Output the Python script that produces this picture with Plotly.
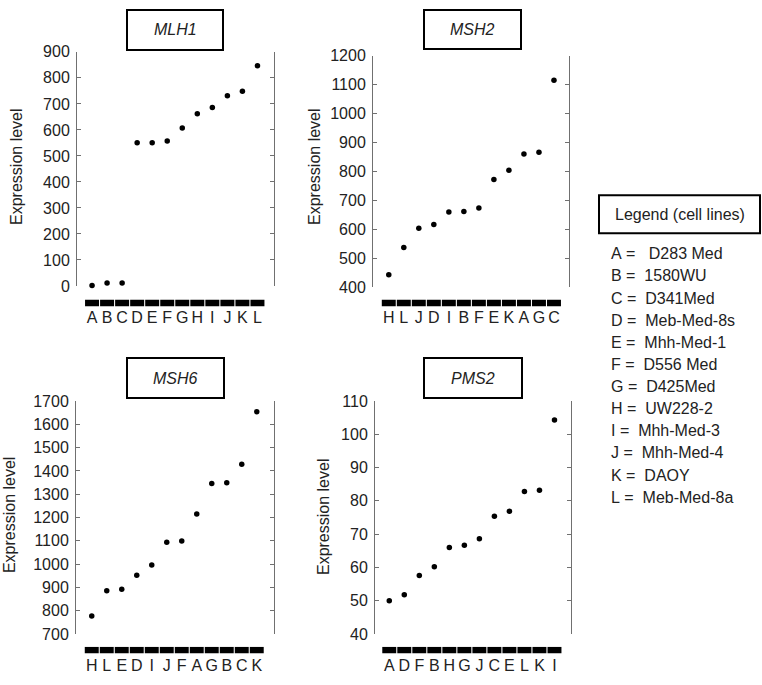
import plotly.graph_objects as go

W, H = 762, 685

# ---------------- data ----------------
genes = ["MLH1", "MSH2", "MSH6", "PMS2"]

mlh1_order = ["A", "B", "C", "D", "E", "F", "G", "H", "I", "J", "K", "L"]
mlh1_values = [2, 11, 11, 551, 551, 557, 607, 662, 686, 731, 749, 847]

msh2_order = ["H", "L", "J", "D", "I", "B", "F", "E", "K", "A", "G", "C"]
msh2_values = [442, 536, 603, 616, 659, 661, 673, 772, 804, 860, 866, 1115]

msh6_order = ["H", "L", "E", "D", "I", "J", "F", "A", "G", "B", "C", "K"]
msh6_values = [777, 886, 892, 952, 996, 1094, 1099, 1215, 1346, 1349, 1429, 1654]

pms2_order = ["A", "D", "F", "B", "H", "G", "J", "C", "E", "L", "K", "I"]
pms2_values = [50.0, 51.8, 57.6, 60.2, 66.0, 66.7, 68.6, 75.4, 76.9, 82.8, 83.2, 104.3]

legend_codes = ["A", "B", "C", "D", "E", "F", "G", "H", "I", "J", "K", "L"]
legend_names = [" D283 Med", "1580WU", "D341Med", "Meb-Med-8s", "Mhh-Med-1",
                "D556 Med", "D425Med", "UW228-2", "Mhh-Med-3", "Mhh-Med-4",
                "DAOY", "Meb-Med-8a"]

y_ranges = [[0, 900], [400, 1200], [700, 1700], [40, 110]]
y_dticks = [100, 100, 100, 10]

orders = [mlh1_order, msh2_order, msh6_order, pms2_order]
values = [mlh1_values, msh2_values, msh6_values, pms2_values]

# ---------------- layout geometry (pixels) ----------------
def fx(px):
    return px / W

def fy(py):
    return 1 - py / H

panels = [
    dict(x0=77, x1=274, y0=45, y1=285, s0=299, s1=306, xr=[-1.0, 12.1],
         box=(127, 2, 223, 43), yt=(17, 163)),
    dict(x0=373, x1=569, y0=49, y1=286, s0=299, s1=306, xr=[-1.05, 12.0],
         box=(424, 2, 521, 42), yt=(315, 163)),
    dict(x0=76, x1=274, y0=403, y1=642, s0=655, s1=662, xr=[-1.05, 12.15],
         box=(127, 359, 224, 400), yt=(9, 520)),
    dict(x0=375, x1=571, y0=403, y1=642, s0=655, s1=662, xr=[-0.95, 12.1],
         box=(424, 359, 522, 400), yt=(323, 522)),
]

FONT = "Liberation Sans, Arial, Helvetica, sans-serif"
TXT = "#222222"
AX = "#707070"

fig = go.Figure()
layout = dict(
    width=W, height=H,
    margin=dict(l=0, r=0, t=0, b=0),
    paper_bgcolor="white", plot_bgcolor="rgba(0,0,0,0)",
    showlegend=False,
    font=dict(family=FONT, size=16, color=TXT),
    shapes=[], annotations=[],
)

for i, p in enumerate(panels):
    n_sc = 2 * i + 1   # scatter axes
    n_st = 2 * i + 2   # strip axes
    xs = list(range(len(orders[i])))

    fig.add_trace(go.Scatter(
        x=xs, y=values[i], mode="markers",
        marker=dict(color="black", size=5.5),
        xaxis=f"x{n_sc}", yaxis=f"y{n_sc}", cliponaxis=False,
    ))
    fig.add_trace(go.Bar(
        x=xs, y=[1] * len(xs), width=0.93,
        marker=dict(color="black", line=dict(width=0)),
        xaxis=f"x{n_st}", yaxis=f"y{n_st}",
    ))

    layout[f"xaxis{n_sc}"] = dict(
        domain=[fx(p["x0"]), fx(p["x1"])], range=p["xr"],
        anchor=f"y{n_sc}", visible=False, fixedrange=True,
    )
    layout[f"yaxis{n_sc}"] = dict(
        domain=[fy(p["y1"]), fy(p["y0"])], range=y_ranges[i],
        anchor=f"x{n_sc}", dtick=y_dticks[i], tick0=0,
        showline=True, linecolor=AX, linewidth=1, mirror="ticks",
        ticks="inside", ticklen=4, tickcolor=AX, tickwidth=1,
        ticklabelstandoff=3,
        showgrid=False, zeroline=False,
        tickfont=dict(size=16, color=TXT, family=FONT),
        fixedrange=True,
    )
    layout[f"xaxis{n_st}"] = dict(
        domain=[fx(p["x0"]), fx(p["x1"])], range=p["xr"],
        anchor=f"y{n_st}", tickmode="array", tickvals=xs,
        ticktext=orders[i], showline=False, showgrid=False,
        zeroline=False, ticks="", tickangle=0,
        tickfont=dict(size=16, color=TXT, family=FONT),
        fixedrange=True,
    )
    layout[f"yaxis{n_st}"] = dict(
        domain=[fy(p["s1"]), fy(p["s0"])], range=[0, 1],
        anchor=f"x{n_st}", visible=False, fixedrange=True,
    )

    bx0, by0, bx1, by1 = p["box"]
    layout["shapes"].append(dict(
        type="rect", xref="paper", yref="paper",
        x0=fx(bx0), x1=fx(bx1), y0=fy(by1), y1=fy(by0),
        line=dict(color="black", width=2), fillcolor="white",
    ))
    layout["annotations"].append(dict(
        xref="paper", yref="paper",
        x=fx((bx0 + bx1) / 2), y=fy((by0 + by1) / 2),
        text=f"<i>{genes[i]}</i>", showarrow=False,
        xanchor="center", yanchor="middle",
        font=dict(size=16, color=TXT, family=FONT),
    ))
    tx, ty = p["yt"]
    layout["annotations"].append(dict(
        xref="paper", yref="paper", x=fx(tx), y=fy(ty),
        text="Expression level", textangle=-90, showarrow=False,
        xanchor="center", yanchor="middle",
        font=dict(size=16, color=TXT, family=FONT),
    ))

# legend box
layout["shapes"].append(dict(
    type="rect", xref="paper", yref="paper",
    x0=fx(599), x1=fx(760), y0=fy(231), y1=fy(192),
    line=dict(color="black", width=2), fillcolor="white",
))
layout["annotations"].append(dict(
    xref="paper", yref="paper", x=fx(679.5), y=fy(212),
    text="Legend (cell lines)", showarrow=False,
    xanchor="center", yanchor="middle",
    font=dict(size=16, color=TXT, family=FONT),
))
for k, (c, nm) in enumerate(zip(legend_codes, legend_names)):
    layout["annotations"].append(dict(
        xref="paper", yref="paper", x=fx(609), y=fy(252 + k * 22.7),
        text=(c + " =  " + nm).replace(" ", "\u00a0"), showarrow=False,
        xanchor="left", yanchor="middle",
        font=dict(size=16, color=TXT, family=FONT),
    ))

fig.update_layout(**layout)
fig.write_html(
    "out.html",
    config={"displayModeBar": False, "staticPlot": True},
    post_script="document.body.style.margin='0px';document.body.style.overflow='hidden';",
)
